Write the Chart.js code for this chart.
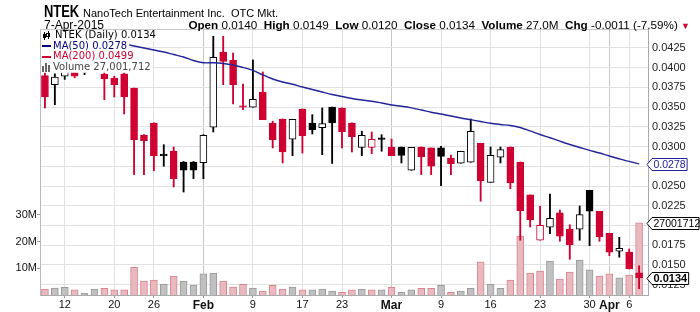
<!DOCTYPE html>
<html>
<head>
<meta charset="utf-8">
<script src="https://cdn.jsdelivr.net/npm/chart.js@4.4.1/dist/chart.umd.min.js"></script>
<style>
  html, body { margin: 0; padding: 0; background: #fff; }
  #wrap { position: relative; width: 700px; height: 312px; overflow: hidden; font-family: "Liberation Sans", Arial, sans-serif; }
  #chart { position: absolute; left: 0; top: 0; }
  .hd { position: absolute; white-space: nowrap; color: #000; font-family: "Liberation Sans", Arial, sans-serif; }
  #t1 { left: 44px; top: 2px; font-size: 11px; }
  #t1 b { display: inline-block; font-size: 17px; transform: scaleX(0.76); transform-origin: left; width: 36px; }
  #t2 { left: 44px; top: 18px; font-size: 12px; }
  #t3 { right: 10px; top: 18px; font-size: 11.7px; }
  #t3 .dn { color: #cc0033; font-size: 9px; }
</style>
</head>
<body>
<div id="wrap">
  <canvas id="chart" width="700" height="312"></canvas>
  <div class="hd" id="t1"><b>NTEK</b> NanoTech Entertainment Inc.&nbsp; OTC Mkt.</div>
  <div class="hd" id="t2">7-Apr-2015</div>
  <div class="hd" id="t3"><b>Open</b> 0.0140 &nbsp;<b>High</b> 0.0149 &nbsp;<b>Low</b> 0.0120 &nbsp;<b>Close</b> 0.0134 &nbsp;<b>Volume</b> 27.0M &nbsp;<b>Chg</b> -0.0011 (-7.59%) <span class="dn">&#9660;</span></div>
</div>
<script>
// trading days 8-Jan-2015 .. 7-Apr-2015 (x = day index)
var opens  = [0.03897,0.03783,0.0389,0.0400,0.0394,0.0396,0.03918,0.03868,0.0392,0.0374,
              0.03146,0.03298,0.02885,0.02943,0.02804,0.02804,0.02795,0.03244,0.04197,0.04096,
              0.0350,0.03497,0.0369,0.03294,0.03349,0.03092,0.03475,0.03298,0.03239,0.0350,
              0.03488,0.03298,0.0299,0.0299,0.0309,0.02994,0.02994,0.02699,0.02994,0.02982,
              0.02982,0.02855,0.02788,0.02801,0.03041,0.02547,0.02864,0.02994,0.02804,0.02387,
              0.01813,0.01978,0.02159,0.01956,0.01952,0.02446,0.0218,0.01902,0.01674,0.01665,0.0140];
var highs  = [0.0395,0.0392,0.0402,0.0403,0.0400,0.0404,0.0396,0.0389,0.0394,0.0374,
              0.0315,0.0330,0.03023,0.02994,0.0281,0.0281,0.0315,0.04396,0.04396,0.04184,
              0.03792,0.04096,0.03944,0.0332,0.0335,0.03345,0.03475,0.03403,0.03488,0.0350,
              0.0349,0.0330,0.03193,0.03184,0.0315,0.03095,0.02994,0.0299,0.02994,0.02982,
              0.03003,0.02893,0.0294,0.03349,0.03041,0.02994,0.02994,0.02994,0.02804,0.02387,
              0.02243,0.02399,0.02197,0.0201,0.02247,0.02446,0.0218,0.01902,0.0185,0.01702,0.0149];
var lows   = [0.03488,0.0353,0.0385,0.0387,0.0391,0.0395,0.03593,0.03627,0.03412,0.02644,
              0.02644,0.02694,0.0275,0.02488,0.02424,0.02593,0.02593,0.03184,0.03783,0.03539,
              0.03466,0.03497,0.0334,0.02982,0.02792,0.02884,0.02918,0.03159,0.02897,0.02786,
              0.02982,0.02931,0.02884,0.0291,0.0294,0.02884,0.02792,0.02699,0.02644,0.02644,
              0.02504,0.02644,0.02788,0.02801,0.02307,0.02547,0.02792,0.02466,0.01813,0.01981,
              0.01813,0.01897,0.0180,0.01572,0.01813,0.01745,0.0180,0.01618,0.01598,0.0145,0.0120];
var closes = [0.03627,0.0388,0.0398,0.0389,0.0396,0.0400,0.03855,0.03783,0.03627,0.03087,
              0.03074,0.02884,0.0289,0.02593,0.02699,0.0270,0.03142,0.0413,0.04079,0.03783,
              0.03497,0.03598,0.0334,0.03087,0.02932,0.03345,0.03137,0.03213,0.0329,0.0330,
              0.03188,0.03125,0.03142,0.03092,0.03095,0.02884,0.02886,0.0299,0.02871,0.0275,
              0.02876,0.02783,0.0294,0.03193,0.02568,0.02889,0.0296,0.02542,0.02188,0.02074,
              0.02003,0.02092,0.01864,0.01757,0.02137,0.0218,0.01859,0.01661,0.01712,0.0145,0.0134];
var priorClose = 0.0392;
// volume, millions of shares
var volumes = [2.25,2.6,2.9,1.9,0.6,2.25,2.5,1.9,1.9,10.4,
               5.2,5.6,4.0,7.1,5.2,3.75,7.9,8.2,5.2,3.0,
               4.0,2.6,1.5,3.6,2.25,3.0,1.9,1.9,2.25,1.5,
               1.0,1.9,2.25,1.9,1.9,2.9,1.0,1.9,2.5,2.5,
               3.6,1.0,1.5,2.5,12.4,4.0,2.5,5.6,22.1,8.2,
               9.0,12.7,6.0,8.6,13.1,9.4,7.1,7.9,6.4,7.5,27.001712];
var ma50 = [null,null,null,null,null,null,null,
            0.04387,0.04305,0.04273,0.04248,0.04222,0.04197,0.04165,0.04134,0.04089,0.04061,
            0.0406,0.04051,0.04032,0.04001,0.03963,0.03906,0.03855,0.03817,0.03788,0.03754,
            0.03722,0.0369,0.03659,0.03634,0.03608,0.03589,0.03574,0.03551,0.03526,0.0351,
            0.0349,0.03463,0.03434,0.03412,0.03387,0.03361,0.0334,0.03317,0.03294,0.03279,
            0.03266,0.03241,0.03197,0.03152,0.03111,0.03068,0.03026,0.02988,0.02952,0.02918,
            0.0288,0.02845,0.02811,0.0278];
var xTickIdx  = [2,7,11,16,21,26,30,35,40,45,50,55,57,59];
var xTickText = ['12','20','26','Feb','9','17','23','Mar','9','16','23','30','Apr','6'];
var monthIdx  = [16,35,57];
var priceTicks = [0.0125,0.0150,0.0175,0.0200,0.0225,0.0250,0.0275,0.0300,0.0325,0.0350,0.0375,0.0400,0.0425];
var volTicks = [10,20,30];

var RED = '#cf0032', BLACK = '#000', NAVY = '#23239a';
var FONT = '"Liberation Sans", Arial, sans-serif';

function prevClose(i) { return i === 0 ? priorClose : closes[i - 1]; }
function isDown(i) { return closes[i] < prevClose(i); }
function candleColor(i) { return isDown(i) ? RED : BLACK; }
function isHollow(i) { return closes[i] > opens[i] && Math.abs(closes[i] - opens[i]) > 0.00015; }

var idx = closes.map(function(c, i) { return i; });

// tags + legend + frame drawn over the plot
var overlay = {
  id: 'overlay',
  afterDraw: function(chart) {
    var ctx = chart.ctx, a = chart.chartArea;
    ctx.save();
    ctx.strokeStyle = '#c8c8c8'; ctx.lineWidth = 1;
    ctx.beginPath(); ctx.moveTo(a.left, a.top + 0.5); ctx.lineTo(a.right, a.top + 0.5); ctx.stroke();

    // legend
    ctx.font = '10px "DejaVu Sans", Verdana, sans-serif';
    ctx.textBaseline = 'middle';
    var rows = [
      { t: 'NTEK (Daily) 0.0134', c: '#000', y: 35.5 },
      { t: 'MA(50) 0.0278', c: '#000080', y: 46.2 },
      { t: 'MA(200) 0.0499', c: RED, y: 56.9 },
      { t: 'Volume 27,001,712', c: '#444', y: 67.3 }
    ];
    rows.forEach(function(r, k) {
      var tx = k === 0 ? 55 : 53;
      var w = ctx.measureText(r.t).width;
      ctx.fillStyle = '#fff';
      ctx.fillRect(a.left + 1, r.y - 5.5, tx + w + 2 - a.left - 1, 11);
      ctx.fillStyle = r.c;
      ctx.fillText(r.t, tx, r.y);
    });
    // icons
    ctx.fillStyle = '#000';
    ctx.fillRect(44, 32, 1, 8); ctx.fillRect(43, 34, 3, 4);
    ctx.fillRect(48, 31, 1, 8); ctx.strokeStyle = '#000'; ctx.strokeRect(46.5, 33.5, 3, 3);
    ctx.fillStyle = '#000080'; ctx.fillRect(42, 45, 9, 2);
    ctx.fillStyle = RED; ctx.fillRect(42, 56, 9, 2);
    ctx.fillStyle = '#666';
    ctx.fillRect(42, 66, 2, 6); ctx.fillRect(45, 63, 2, 9); ctx.fillRect(48, 65, 2, 7);

    // right-hand value tags
    var y = chart.scales.y, yv = chart.scales.yv;
    function tag(py, text, col, bold) {
      ctx.font = (bold ? 'bold 11px ' : '10.5px ') + FONT;
      var w = ctx.measureText(text).width;
      var x0 = a.right - 1, x1 = x0 + 5, x2 = Math.min(x1 + w + 3, 699);
      py = Math.round(py) + 0.5;
      ctx.beginPath();
      ctx.moveTo(x0, py); ctx.lineTo(x1, py - 6); ctx.lineTo(x2, py - 6);
      ctx.lineTo(x2, py + 6); ctx.lineTo(x1, py + 6); ctx.closePath();
      ctx.fillStyle = '#fff'; ctx.fill();
      ctx.strokeStyle = col; ctx.lineWidth = 1; ctx.stroke();
      ctx.fillStyle = col; ctx.textBaseline = 'middle';
      ctx.fillText(text, x1 + 1.5, py + 0.5);
    }
    tag(y.getPixelForValue(ma50[ma50.length - 1]), '0.0278', NAVY, false);
    tag(yv.getPixelForValue(volumes[volumes.length - 1]), '27001712', '#000', false);
    tag(y.getPixelForValue(closes[closes.length - 1]), '0.0134', '#000', true);
    ctx.restore();
  }
};

new Chart(document.getElementById('chart'), {
  type: 'bar',
  data: {
    datasets: [
      {
        type: 'line', label: 'MA(50)', yAxisID: 'y', order: 0,
        data: idx.map(function(i) { return { x: i, y: ma50[i] }; }),
        borderColor: NAVY, borderWidth: 1.4, pointRadius: 0, tension: 0.3, spanGaps: false
      },
      {
        label: 'body', yAxisID: 'y', order: 1,
        data: idx.map(function(i) { return { x: i, y: [opens[i], closes[i]] }; }),
        barThickness: 7, minBarLength: 1.5, borderWidth: 1, borderSkipped: false,
        borderColor: function(c) { return candleColor(c.dataIndex); },
        backgroundColor: function(c) { return isHollow(c.dataIndex) ? '#fff' : candleColor(c.dataIndex); }
      },
      {
        label: 'wick', yAxisID: 'y', order: 2,
        data: idx.map(function(i) { return { x: i, y: [lows[i], highs[i]] }; }),
        barThickness: 1.2, borderWidth: 0,
        backgroundColor: function(c) { return candleColor(c.dataIndex); }
      },
      {
        label: 'Volume', yAxisID: 'yv', order: 3,
        data: idx.map(function(i) { return { x: i, y: volumes[i] }; }),
        barThickness: 7, borderWidth: 1,
        backgroundColor: function(c) { return isDown(c.dataIndex) ? '#e9b9c0' : '#c0c0c0'; },
        borderColor: function(c) { return isDown(c.dataIndex) ? '#d98590' : '#9a9a9a'; }
      }
    ]
  },
  options: {
    responsive: false, animation: false,
    layout: { padding: { top: 29, left: 0, right: 0, bottom: 0 } },
    datasets: { bar: { grouped: false } },
    plugins: { legend: { display: false }, tooltip: { enabled: false } },
    scales: {
      x: {
        type: 'linear', min: -0.5, max: 60.9, offset: false,
        afterBuildTicks: function(s) { s.ticks = xTickIdx.map(function(v) { return { value: v }; }); },
        afterFit: function(s) { s.height = 17; },
        grid: {
          offset: false, tickLength: 3, tickColor: '#999',
          color: function(c) { return c.tick && monthIdx.indexOf(c.tick.value) >= 0 ? '#c6c6c6' : '#e2e2e2'; }
        },
        border: { color: '#aaa' },
        ticks: {
          autoSkip: false, maxRotation: 0, padding: 0, color: '#111',
          font: function(c) {
            var m = c.tick && monthIdx.indexOf(c.tick.value) >= 0;
            return { family: FONT, size: m ? 12 : 11, weight: m ? 'bold' : 'normal' };
          },
          callback: function(v) { var k = xTickIdx.indexOf(v); return k >= 0 ? xTickText[k] : ''; }
        }
      },
      y: {
        position: 'right', min: 0.0112, max: 0.04488,
        afterBuildTicks: function(s) { s.ticks = priceTicks.map(function(v) { return { value: v }; }); },
        afterFit: function(s) { s.width = 52; },
        grid: { color: '#e2e2e2', drawTicks: false },
        border: { color: '#aaa' },
        ticks: { padding: 4, color: '#222', font: { family: FONT, size: 11 },
                 callback: function(v) { return v.toFixed(4); } }
      },
      yv: {
        position: 'left', min: 0, max: 99.6,
        afterBuildTicks: function(s) { s.ticks = volTicks.map(function(v) { return { value: v }; }); },
        afterFit: function(s) { s.width = 40; },
        grid: { drawOnChartArea: false, tickLength: 3, tickColor: '#999' },
        border: { color: '#bbb' },
        ticks: { padding: 0, color: '#111', font: { family: FONT, size: 11 },
                 callback: function(v) { return v + 'M'; } }
      }
    }
  },
  plugins: [overlay]
});
</script>
</body>
</html>
